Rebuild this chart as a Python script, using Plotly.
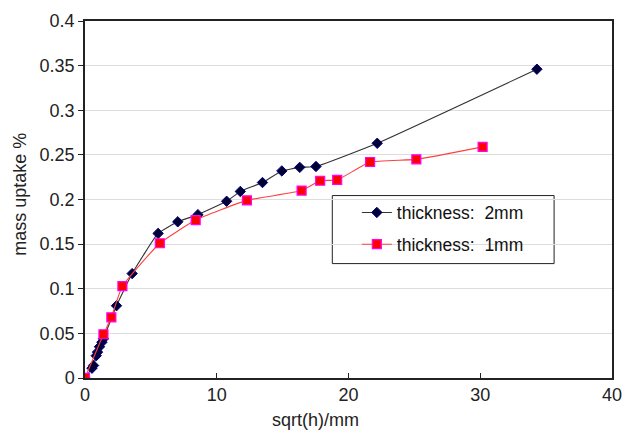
import plotly.graph_objects as go

x_2mm = [0, 0.53, 0.65, 0.85, 0.95, 1.1, 1.28, 1.4, 2.39, 3.58, 5.55, 7.04, 8.57, 10.75, 11.79, 13.47, 14.94, 16.3, 17.53, 22.18, 34.3]
y_2mm = [0, 0.011, 0.014, 0.025, 0.029, 0.035, 0.040, 0.044, 0.081, 0.117, 0.162, 0.175, 0.183, 0.198, 0.209, 0.219, 0.232, 0.236, 0.237, 0.263, 0.346]

x_1mm = [0, 1.4, 2.0, 2.84, 5.68, 8.4, 12.29, 16.44, 17.85, 19.14, 21.64, 25.15, 30.18]
y_1mm = [0, 0.049, 0.068, 0.103, 0.151, 0.177, 0.199, 0.210, 0.221, 0.222, 0.242, 0.245, 0.259]

FONT = "Liberation Sans, Arial, sans-serif"

fig = go.Figure()
fig.add_trace(go.Scatter(
    x=x_2mm, y=y_2mm, mode="lines+markers", name="thickness:  2mm", legendgroup="a",
    line=dict(color="#333333", width=1.1, shape="spline", smoothing=0.4),
    marker=dict(symbol="diamond", size=8, color="#000033", line=dict(color="#000080", width=1)),
))
fig.add_trace(go.Scatter(
    x=x_1mm, y=y_1mm, mode="lines+markers", name="thickness:  1mm", legendgroup="b",
    line=dict(color="#FF4040", width=1.1, shape="spline", smoothing=0.4),
    marker=dict(symbol="square", size=9, color="#FF0000", line=dict(color="#FF00FF", width=1.2)),
))

L, R, T, B = 85, 11, 16, 59
W, H = 633, 437
pw, ph = W - L - R, H - T - B

def px_x(p):
    return (p - L) / pw

def px_y(p):
    return (H - B - p) / ph

fig.update_layout(
    width=W, height=H,
    margin=dict(l=L, r=R, t=T, b=B),
    paper_bgcolor="white", plot_bgcolor="white",
    font=dict(family=FONT, size=18, color="#222222"),
    showlegend=True,
    legend=dict(
        x=px_x(362), y=px_y(192), xanchor="left", yanchor="top",
        borderwidth=0, bgcolor="rgba(0,0,0,0)",
        font=dict(size=17.5, color="#111111"),
        tracegroupgap=6,
    ),
    shapes=[dict(
        type="rect", xref="paper", yref="paper",
        x0=px_x(337), x1=px_x(563), y0=px_y(262), y1=px_y(193),
        line=dict(color="#222222", width=1), fillcolor="white", layer="below",
    )],
    annotations=[
        dict(text="sqrt(h)/mm", xref="paper", yref="paper", x=px_x(320), y=px_y(421),
             xanchor="center", yanchor="middle", showarrow=False, font=dict(size=18)),
        dict(text="mass uptake %", xref="paper", yref="paper", x=px_x(18), y=px_y(192),
             xanchor="center", yanchor="middle", textangle=-90, showarrow=False, font=dict(size=18)),
    ],
    xaxis=dict(
        range=[0, 40], tickvals=[0, 10, 20, 30, 40],
        showgrid=False, zeroline=False,
        showline=True, linecolor="#222222", linewidth=1.5, mirror=True,
        ticks="inside", ticklen=5, tickcolor="#222222",
    ),
    yaxis=dict(
        range=[0, 0.4], tickvals=[0, 0.05, 0.1, 0.15, 0.2, 0.25, 0.3, 0.35, 0.4],
        ticktext=["0", "0.05", "0.1", "0.15", "0.2", "0.25", "0.3", "0.35", "0.4"],
        showgrid=True, gridcolor="#DDDDDD", gridwidth=1, zeroline=False,
        showline=True, linecolor="#222222", linewidth=1.5, mirror=True,
        ticks="outside", ticklen=5, tickcolor="#222222",
    ),
)

fig.write_html("out.html")
